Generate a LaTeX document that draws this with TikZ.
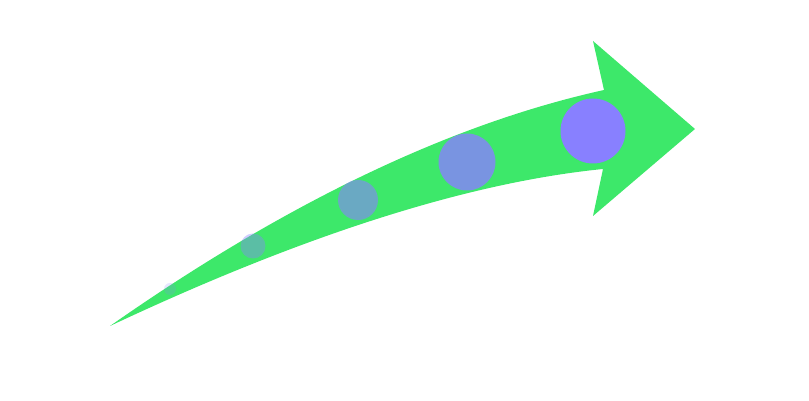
\documentclass[tikz,border=0pt]{standalone}
\usepackage{tikz}
\usetikzlibrary{positioning,arrows,calc}

\definecolor{shaftgreen}{RGB}{61,232,106}
\definecolor{dotpurple}{RGB}{136,128,255}

\begin{document}
\begin{tikzpicture}[x=0.02cm,y=-0.02cm]
\tikzset{dot/.style={circle,fill=dotpurple,inner sep=0pt}}
\useasboundingbox (0,0) rectangle (809,401);

\coordinate (Tail) at (110,326);
\coordinate (NotchTop) at (604,90);
\coordinate (NotchBot) at (603,169);
\coordinate (BarbTop) at (593,41);
\coordinate (BarbBot) at (593,216);
\coordinate (Tip) at (695,129);

% shaft + head
\fill[shaftgreen] (Tail)
	.. controls (286.7,202.3) and (451.3,123.7) .. (NotchTop)
	-- (BarbTop) -- (Tip) -- (BarbBot) -- (NotchBot)
	.. controls (468.3,182.5) and (304,234.8) .. (Tail) -- cycle;

\node[dot,fill opacity=0.2,minimum size=12*0.02cm] (D1) at (170,289) {};
\node[dot,fill opacity=0.4,minimum size=25*0.02cm] (D2) at (253,246) {};
\node[dot,fill opacity=0.6,minimum size=40*0.02cm] (D3) at (358,200) {};
\node[dot,fill opacity=0.8,minimum size=57*0.02cm] (D4) at (467,162) {};
\node[dot,fill opacity=1,minimum size=65*0.02cm] (D5) at (593,131) {};
\end{tikzpicture}
\end{document}
